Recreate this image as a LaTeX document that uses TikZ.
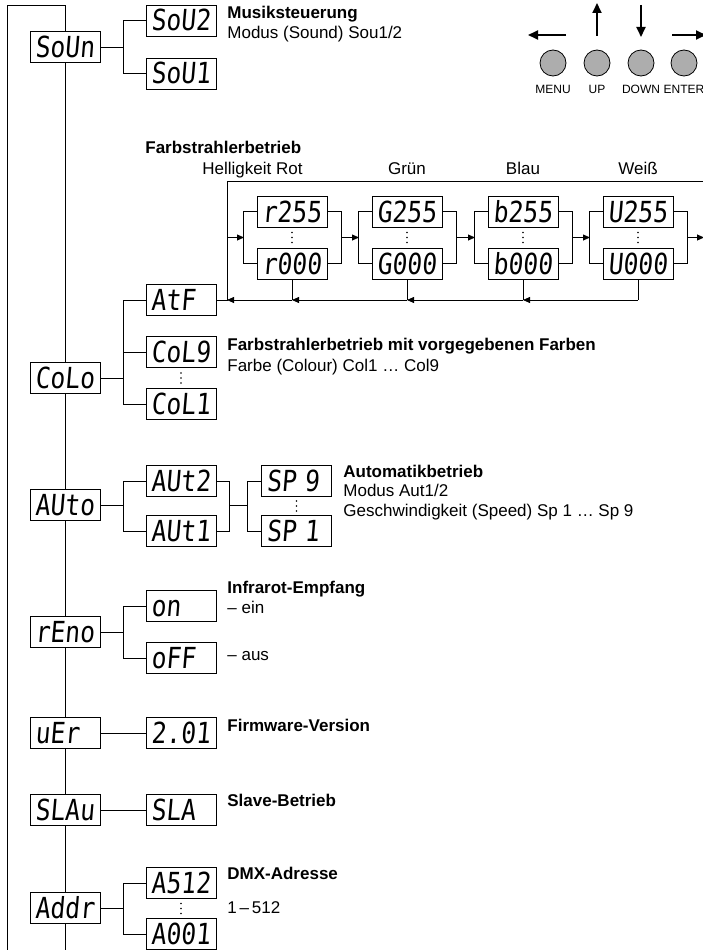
\documentclass[tikz,border=0pt]{standalone}
\usepackage{fontspec}
\usepackage{graphicx}
\setmainfont{Liberation Sans}
\newfontfamily\segfont{DejaVu Sans Mono}[FakeSlant=0.1]
\usetikzlibrary{arrows.meta}
\newcommand\dsp[1]{\scalebox{0.85}[1]{#1}}
\newcommand\vdts[2]{\fill (#1,#2-5) circle (0.9pt) (#1,#2) circle (0.9pt) (#1,#2+5) circle (0.9pt);}
\begin{document}
\begin{tikzpicture}[x=1pt,y=-1pt,line width=0.8pt,
  disp/.style={draw, line width=0.8pt, fill=white, minimum width=70pt, minimum height=31pt,
    inner sep=0pt, text width=60pt, align=left, text height=21pt, text depth=0pt,
    font=\segfont\fontsize{29}{29}\selectfont},
  lbl/.style={anchor=base west, inner sep=0pt, font=\fontsize{17}{20}\selectfont},
  blbl/.style={anchor=base west, inner sep=0pt, font=\fontsize{17}{20}\selectfont\bfseries},
  clbl/.style={anchor=base, inner sep=0pt, font=\fontsize{17}{20}\selectfont},
  arr/.style={-{Triangle[length=7pt,width=6pt]}},
  barr/.style={line width=1.8pt,-{Triangle[length=10pt,width=9pt]}},
  btn/.style={circle, draw, line width=0.8pt, fill=black!32, minimum size=26pt, inner sep=0pt},
  btnlbl/.style={anchor=base, inner sep=0pt, font=\fontsize{12}{14}\selectfont}]
\useasboundingbox (0,0) rectangle (703,950);

% ---------- coordinates ----------
\coordinate (bx) at (123,0);
\coordinate (tl) at (7,5);
\coordinate (bl) at (7,950);
\coordinate (top) at (65,5);
\coordinate (bs) at (65,950);

% ---------- left column ----------
\node[disp] (SoUn) at (65,47) {\dsp{SoUn}};
\node[disp] (CoLo) at (65,378) {\dsp{CoLo}};
\node[disp] (AUto) at (65,505) {\dsp{AUto}};
\node[disp] (rEno) at (65,632) {\dsp{rEno}};
\node[disp] (uEr) at (65,733) {\dsp{uEr}};
\node[disp] (SLAu) at (65,810) {\dsp{SLAu}};
\node[disp] (Addr) at (65,908) {\dsp{Addr}};

\draw (bl) -- (tl) -- (top) -- (SoUn.north);
\draw (SoUn.south) -- (CoLo.north);
\draw (CoLo.south) -- (AUto.north);
\draw (AUto.south) -- (rEno.north);
\draw (rEno.south) -- (uEr.north);
\draw (uEr.south) -- (SLAu.north);
\draw (SLAu.south) -- (Addr.north);
\draw (Addr.south) -- (bs);

% ---------- second column ----------
\node[disp] (SoU2) at (181,20.5) {\dsp{SoU2}};
\node[disp] (SoU1) at (181,73.5) {\dsp{SoU1}};
\node[disp] (AtF) at (181,300) {\dsp{AtF}};
\node[disp] (CoL9) at (181,352) {\dsp{CoL9}};
\node[disp] (CoL1) at (181,404) {\dsp{CoL1}};
\node[disp] (AUt2) at (181,481) {\dsp{AUt2}};
\node[disp] (AUt1) at (181,531) {\dsp{AUt1}};
\node[disp] (on) at (181,606) {\dsp{on}};
\node[disp] (oFF) at (181,658) {\dsp{oFF}};
\node[disp] (ver) at (181,733) {\dsp{2.01}};
\node[disp] (SLA) at (181,810) {\dsp{SLA}};
\node[disp] (A512) at (181,883) {\dsp{A512}};
\node[disp] (A001) at (181,934) {\dsp{A001}};
\node[disp] (SP9) at (296.5,481) {\dsp{SP 9}};
\node[disp] (SP1) at (296.5,531) {\dsp{SP 1}};

% SoUn branch
\draw (SoUn.east) -- (SoUn.east -| bx);
\draw (SoU2.west) -- (SoU2.west -| bx) -- (SoU1.west -| bx) -- (SoU1.west);
% CoLo branch
\draw (CoLo.east) -- (CoLo.east -| bx);
\draw (AtF.west) -- (AtF.west -| bx) -- (CoL1.west -| bx) -- (CoL1.west);
\draw (CoL9.west) -- (CoL9.west -| bx);
\vdts{181}{378}
% AUto branch
\draw (AUto.east) -- (AUto.east -| bx);
\draw (AUt2.west) -- (AUt2.west -| bx) -- (AUt1.west -| bx) -- (AUt1.west);
\coordinate (ax) at (229,0);
\coordinate (sx) at (247,0);
\draw (AUt2.east) -- (AUt2.east -| ax) -- (AUt1.east -| ax) -- (AUt1.east);
\draw (AUto.east -| ax) -- (AUto.east -| sx);
\draw (SP9.west) -- (SP9.west -| sx) -- (SP1.west -| sx) -- (SP1.west);
\vdts{296.5}{506}
% rEno branch
\draw (rEno.east) -- (rEno.east -| bx);
\draw (on.west) -- (on.west -| bx) -- (oFF.west -| bx) -- (oFF.west);
% single links
\draw (uEr.east) -- (ver.west);
\draw (SLAu.east) -- (SLA.west);
% Addr branch
\draw (Addr.east) -- (Addr.east -| bx);
\draw (A512.west) -- (A512.west -| bx) -- (A001.west -| bx) -- (A001.west);
\vdts{181}{908.5}

% ---------- colour chain ----------
\coordinate (cJ) at (227,300);
\coordinate (cT) at (227,181);
\coordinate (cM) at (227,237.5);
\coordinate (tE) at (703,181);
\coordinate (oE) at (704,237.5);
\foreach \g/\c in {r/292,G/407,b/523,U/638}{
  \node[disp] (\g-1) at (\c,211.5) {\dsp{\g255}};
  \node[disp] (\g-0) at (\c,263.5) {\dsp{\g000}};
  \draw (\g-1.west) -- ++(-13,0) |- (\g-0.west);
  \draw (\g-1.east) -- ++(14,0) |- (\g-0.east);
  \coordinate (\g-L) at (\c-48,237.5);
  \coordinate (\g-R) at (\c+49,237.5);
  \coordinate (\g-J) at (\c,300);
  \draw (\g-0.south) -- (\g-J);
  \vdts{\c}{237.5}
}
\draw (AtF.east) -- (cJ) -- (cT) -- (tE);
\draw[arr] (cM) -- (r-L);
\draw[arr] (r-R) -- (G-L);
\draw[arr] (G-R) -- (b-L);
\draw[arr] (b-R) -- (U-L);
\draw[arr] (U-R) -- (oE);
\draw[arr] (U-J) -- (b-J);
\draw[arr] (b-J) -- (G-J);
\draw[arr] (G-J) -- (r-J);
\draw[arr] (r-J) -- (cJ);

% ---------- labels ----------
\node[blbl] (t1) at (227,19) {Musiksteuerung};
\node[lbl] (t2) at (227,38) {Modus (Sound) Sou1/2};
\node[blbl] (t3) at (145,153) {Farbstrahlerbetrieb};
\node[lbl] (t4) at (202,174) {Helligkeit Rot};
\node[clbl] (t5) at (407,174) {Grün};
\node[clbl] (t6) at (523,174) {Blau};
\node[clbl] (t7) at (638,174) {Weiß};
\node[blbl] (t8) at (227,350) {Farbstrahlerbetrieb mit vorgegebenen Farben};
\node[lbl] (t9) at (227,371) {Farbe (Colour) Col1 … Col9};
\node[blbl] (t10) at (343,477) {Automatikbetrieb};
\node[lbl] (t11) at (343,496) {Modus Aut1/2};
\node[lbl] (t12) at (343,516) {Geschwindigkeit (Speed) Sp 1 … Sp 9};
\node[blbl] (t13) at (227,593) {Infrarot-Empfang};
\node[lbl] (t14) at (227,613) {– ein};
\node[lbl] (t15) at (227,660) {– aus};
\node[blbl] (t16) at (227,731) {Firmware-Version};
\node[blbl] (t17) at (227,806) {Slave-Betrieb};
\node[blbl] (t18) at (227,879) {DMX-Adresse};
\node[lbl] (t19) at (227,913) {1\,–\,512};

% ---------- buttons ----------
\foreach \n/\x/\t in {bM/553/MENU,bU/597/UP,bD/641/DOWN,bE/684/ENTER}{
  \node[btn] (\n) at (\x,63) {};
  \node[btnlbl] (\n-l) at (\x,93) {\t};
}
\coordinate (mA) at (566,35); \coordinate (mB) at (528,35);
\coordinate (uA) at (597,36); \coordinate (uB) at (597,3);
\coordinate (dA) at (641,5);  \coordinate (dB) at (641,37);
\coordinate (eA) at (672,35); \coordinate (eB) at (706,35);
\draw[barr] (mA) -- (mB);
\draw[barr] (uA) -- (uB);
\draw[barr] (dA) -- (dB);
\draw[barr] (eA) -- (eB);
\end{tikzpicture}
\end{document}
